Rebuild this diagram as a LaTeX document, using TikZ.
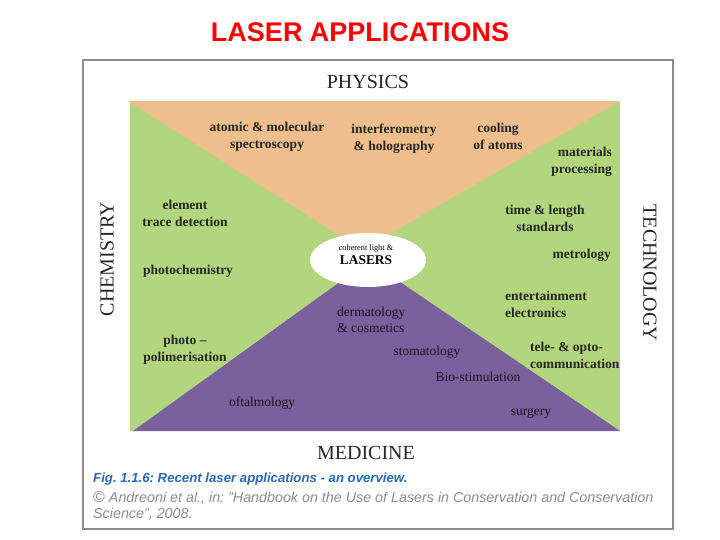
\documentclass[tikz,border=0pt]{standalone}
\usepackage{fontspec}
\setmainfont{Liberation Serif}
\setsansfont{Liberation Sans}
\usepackage{tikz}
\usetikzlibrary{shapes.geometric}

\definecolor{physorange}{RGB}{239,190,141}
\definecolor{fieldgreen}{RGB}{178,214,126}
\definecolor{medpurple}{RGB}{123,96,158}
\definecolor{capblue}{RGB}{44,104,180}

\begin{document}
\begin{tikzpicture}[x=1pt,y=-1pt,inner sep=0pt,
        field/.style={font=\fontsize{13.5}{17}\selectfont\bfseries,text=black!85,align=center},
        med/.style={font=\fontsize{13.5}{16}\selectfont,text=black!80!medpurple,align=center},
        subject/.style={font=\fontsize{20}{22}\selectfont,text=black!85}]

  \useasboundingbox (0,0) rectangle (720,540);

  \node[font=\sffamily\bfseries\fontsize{27}{30}\selectfont,text=red] (title) at (360,32) {LASER APPLICATIONS};

  \draw[black!45,line width=1.5pt,fill=white] (83,60) rectangle (673,529);
  \fill[fieldgreen] (130,101) rectangle (620,431);
  \fill[physorange] (128,101) -- (620,101) -- (362,250) -- cycle;
  \fill[medpurple] (133,431) -- (620,431) -- (369,261) -- cycle;

  \node[ellipse,fill=white,minimum width=116,minimum height=54] (lasers) at (368,260) {};
  \node[align=center] (lasertext) at (366,255)
        {\fontsize{8.3}{14}\selectfont coherent light \&\\[2pt] \fontsize{13.4}{14}\selectfont\bfseries LASERS};

  \node[subject] (physics) at (368,82) {PHYSICS};
  \node[subject] (medicine) at (366,453) {MEDICINE};
  \node[subject,rotate=90] (chemistry) at (107,259) {CHEMISTRY};
  \node[subject,rotate=-90] (technology) at (650,273) {TECHNOLOGY};

  \node[field] (spectro) at (267,137) {atomic \& molecular\\spectroscopy};
  \node[field] (interfero) at (394,139) {interferometry\\\& holography};
  \node[field] (cooling) at (498,136) {cooling\\of atoms};
  \node[field,anchor=east,align=right] (materials) at (612,162) {materials\\processing};
  \node[field] (element) at (185,213) {element\\trace detection};
  \node[field] (timelength) at (545,218) {time \& length\\standards};
  \node[field] (photochem) at (188,271) {photochemistry};
  \node[field,anchor=east] (metrology) at (611,255) {metrology};
  \node[field,anchor=west,align=left] (entertain) at (505,304) {entertainment\\electronics};
  \node[field] (polimer) at (185,350) {photo --\\polimerisation};
  \node[field,anchor=west,align=left] (telecom) at (530,355) {tele- \& opto-\\communication};

  \node[med,anchor=west,align=left] (dermato) at (337,320) {dermatology\\\& cosmetics};
  \node[med] (stomato) at (427,352) {stomatology};
  \node[med] (biostim) at (478,377) {Bio-stimulation};
  \node[med] (oftalmo) at (262,403) {oftalmology};
  \node[med] (surgery) at (531,413) {surgery};

  \node[anchor=west,font=\sffamily\bfseries\itshape\fontsize{13.2}{14}\selectfont\frenchspacing,text=capblue] (figcap) at (93,479)
        {Fig. 1.1.6: Recent laser applications - an overview.};
  \node[anchor=north west,align=left,font=\sffamily\itshape\fontsize{14.3}{16}\selectfont\frenchspacing,text=black!45] (source) at (93,491)
        {{\upshape\fontsize{16}{16}\selectfont ©} Andreoni et al., in: "Handbook on the Use of Lasers in Conservation and Conservation\\Science", 2008.};

\end{tikzpicture}
\end{document}
